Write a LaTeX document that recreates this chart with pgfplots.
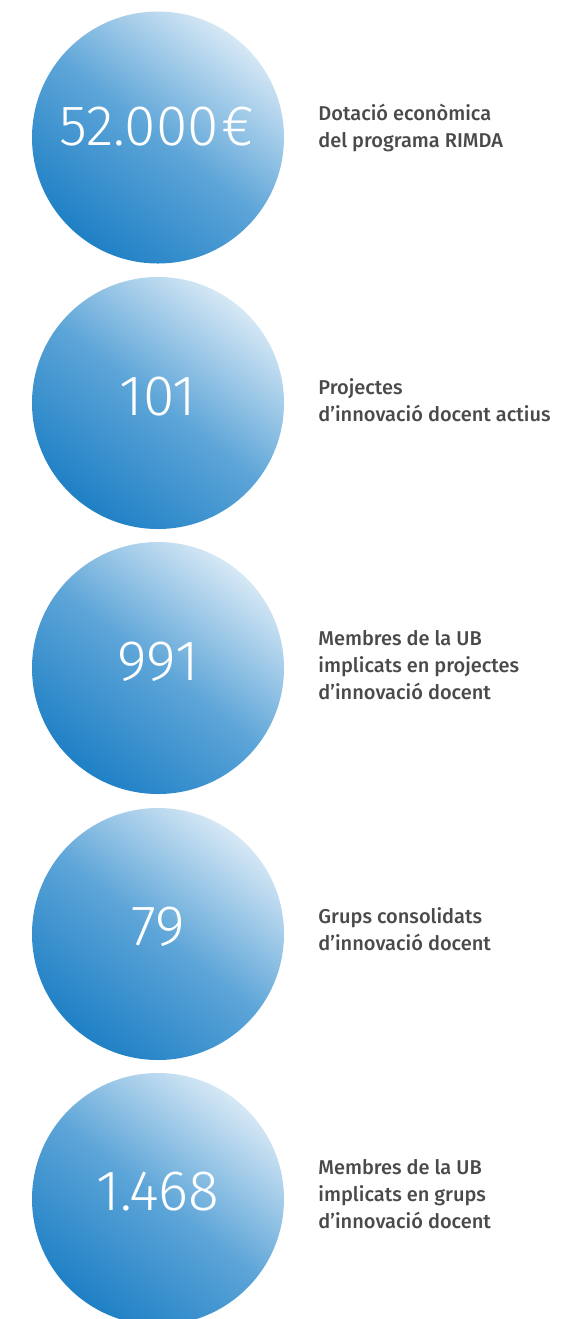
\documentclass[border=0pt]{standalone}
\usepackage{pgfplots}
\pgfplotsset{compat=1.18}
\usepackage{fontspec}
\setmainfont{Fira Sans}
\newfontfamily\numfont{Fira Sans Light}
\newfontfamily\labfont{Fira Sans Medium}
\definecolor{ublight}{HTML}{D6E8F5}
\definecolor{ubdark}{HTML}{1F80C5}
\definecolor{ubmid}{HTML}{5DA5D8}
\definecolor{labgray}{HTML}{4A4A4A}
\begin{document}
\begin{tikzpicture}
\begin{axis}[name=ax, hide axis, scale only axis, width=289pt, height=659.5pt,
  xmin=0, xmax=578, ymin=0, ymax=1319, y dir=reverse, clip=false]
% circles
\addplot[scatter, only marks, mark=*, mark size=0pt, mark options={draw=none, fill=none},
  scatter/@pre marker code/.code={\shade[draw=none, top color=ublight, bottom color=ubdark, middle color=ubmid, shading angle=-38] (0,0) circle[radius=63pt];},
  scatter/@post marker code/.code={}]
  table {
x y
158 137.5
158 403
158 668
158 934
158 1199
};
% numbers
\addplot[draw=none, mark=none, nodes near coords, point meta=explicit symbolic,
  nodes near coords style={anchor=center, text=white, font=\numfont\fontsize{28.5}{30}\selectfont, inner sep=0pt}]
  coordinates {
(157,127) [{52.000\hspace{1.5pt}€}]
(158,397) [{101}]
(158,662) [{991}]
(158,927) [{79}]
(158,1192) [{1.468}]
};
% labels
\addplot[draw=none, mark=none, nodes near coords, point meta=explicit symbolic,
  nodes near coords style={anchor=west, align=left, text=labgray, font=\labfont\fontsize{10}{13.5}\selectfont, inner sep=0pt}]
  coordinates {
(318,128) [{Dotació econòmica\\del programa RIMDA}]
(318,400) [{Projectes\\d’innovació docent actius}]
(318,665) [{Membres de la UB\\implicats en projectes\\d’innovació docent}]
(318,929) [{Grups consolidats\\d’innovació docent}]
(318,1194) [{Membres de la UB\\implicats en grups\\d’innovació docent}]
};
\end{axis}
\pgfresetboundingbox
\path[use as bounding box] (ax.south west) rectangle (ax.north east);
\end{tikzpicture}
\end{document}
